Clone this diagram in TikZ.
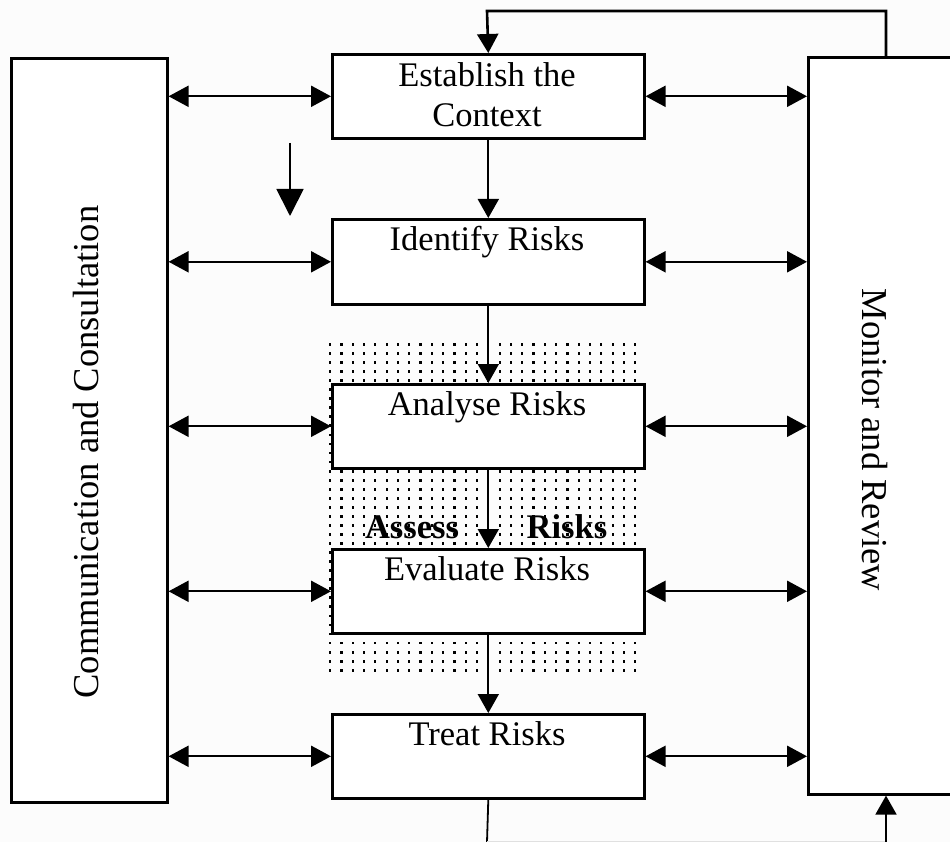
\documentclass[tikz,border=0pt]{standalone}
\usepackage{fontspec}
\setmainfont{Liberation Serif}
\usetikzlibrary{arrows.meta}
\tikzset{
  box/.style={draw=black, line width=2.6pt, fill=white, inner sep=0pt, anchor=north west},
  sidebox/.style={draw=black, line width=2.6pt, fill=white, inner sep=0pt, anchor=north west},
  lbl/.style={font=\fontsize{34.5}{40}\selectfont, inner sep=0pt, anchor=base},
  blbl/.style={font=\fontsize{34.5}{40}\selectfont\bfseries, inner sep=0pt, anchor=base},
  vlbl/.style={font=\fontsize{36.5}{42}\selectfont, inner sep=0pt},
  dbl/.style={line width=2.2pt, {Triangle[length=20pt, width=21pt]}-{Triangle[length=20pt, width=21pt]}},
  down/.style={line width=1.8pt, -{Triangle[length=19pt, width=21pt]}},
  loopline/.style={line width=2.6pt, -{Triangle[length=19pt, width=21pt]}},
}
\begin{document}
\begin{tikzpicture}[x=1pt, y=-1pt]
\useasboundingbox (0,0) rectangle (950,842);
\clip (0,0) rectangle (950,842);
\fill[black!1] (0,0) rectangle (950,842);

% dotted "assess" region
\foreach \i in {0,...,27} {
  \foreach \j in {0,...,36} {
    \fill (329+\i*11.3, 343+\j*9.05) rectangle +(2.2,2.8);
  }
}

% side boxes
\node[sidebox, minimum width=156pt, minimum height=744pt] (cc) at (10,57) {};
\node[sidebox, minimum width=160pt, minimum height=737pt] (mon) at (807,56) {};

% process boxes
\node[box, minimum width=312pt, minimum height=84pt] (est) at (331,53) {};
\node[box, minimum width=312pt, minimum height=85pt] (idn) at (331,218) {};
\node[box, minimum width=312pt, minimum height=84pt] (ana) at (331,383) {};
\node[box, minimum width=312pt, minimum height=84pt] (eva) at (331,548) {};
\node[box, minimum width=312pt, minimum height=84pt] (trt) at (331,713) {};

% texts
\node[lbl] (estA) at (487,87) {Establish the};
\node[lbl] (estB) at (487,127) {Context};
\node[lbl] (idnT) at (487,251) {Identify Risks};
\node[lbl] (anaT) at (487,415) {Analyse Risks};
\node[lbl] (evaT) at (487,580) {Evaluate Risks};
\node[lbl] (trtT) at (487,745) {Treat Risks};
\node[blbl] (assA) at (412,538) {Assess};
\node[blbl] (assB) at (567,538) {Risks};
\node[vlbl, rotate=90] (ccT) at (86,452) {Communication and Consultation};
\node[vlbl, rotate=-90] (monT) at (875,440) {Monitor and Review};

% horizontal double arrows
\foreach \b in {est,idn,ana,eva,trt} {
  \draw[dbl] (cc.east |- \b.west) -- (\b.west);
  \draw[dbl] (\b.east) -- (mon.west |- \b.east);
}

% vertical flow
\draw[down] (est.south) -- (idn.north);
\draw[down] (idn.south) -- (ana.north);
\draw[down] (ana.south) -- (eva.north);
\draw[down] (eva.south) -- (trt.north);

% top feedback loop
\coordinate (l1) at (886,11);
\coordinate (l2) at (487,11);
\draw[loopline] (l1 |- mon.north) -- (l1) -- (l2) -- (est.north);

% bottom loop
\coordinate (b1) at (487,842);
\coordinate (b2) at (886,842);
\draw[line width=1.8pt] (trt.south) -- (b1);
\draw[line width=1.2pt, black!12] (b1) -- (b2);
\draw[line width=1.8pt, -{Triangle[length=19pt, width=21pt]}] (b2) -- (b2 |- mon.south);

% stray arrow
\coordinate (s1) at (290,143);
\coordinate (s2) at (290,216);
\draw[line width=1.8pt, -{Triangle[length=27pt, width=27pt]}] (s1) -- (s2);
\end{tikzpicture}
\end{document}
